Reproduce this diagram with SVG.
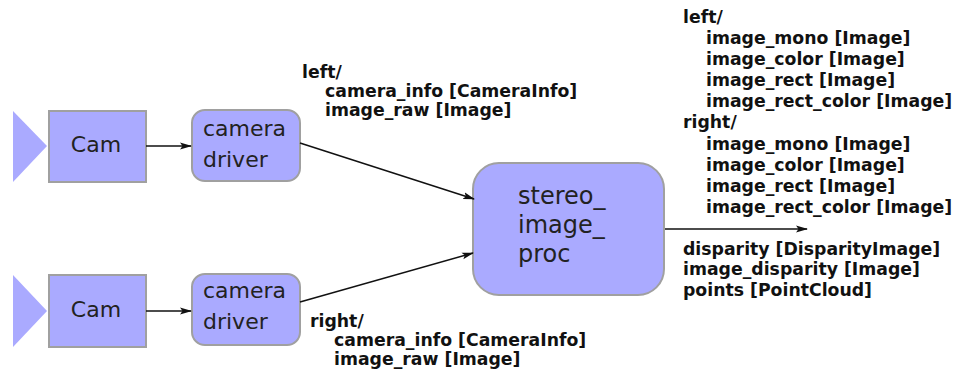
<svg xmlns="http://www.w3.org/2000/svg" width="956" height="380" viewBox="0 0 956 380">
<style>
.node{fill:#aaaaff;stroke:#a0a0a0;stroke-width:2}
.tri{fill:#aaaaff;stroke:none}
.nt{font-family:"DejaVu Sans",sans-serif;font-size:22px;fill:#222}
.st{font-family:"DejaVu Sans",sans-serif;font-size:24px;fill:#222}
.lb{font-family:"DejaVu Sans",sans-serif;font-size:17.3px;font-weight:bold;fill:#111}
.edge{stroke:#111;stroke-width:1.5;fill:none;marker-end:url(#arr)}
</style>
<defs>
<marker id="arr" markerWidth="12" markerHeight="8" refX="11" refY="4" orient="auto" markerUnits="userSpaceOnUse">
<path d="M0,0.5 L12,4 L0,7.5 L2.5,4 z" fill="#111"/>
</marker>
</defs>
<g id="cam1">
<polygon class="tri" points="13,111 47,146 13,182"/>
<rect class="node" x="49" y="111" width="97" height="71"/>
<text class="nt" x="96" y="152" text-anchor="middle">Cam</text>
</g>
<g id="driver1">
<rect class="node" x="192" y="110" width="108" height="71" rx="13"/>
<text class="nt" x="203" y="136">camera</text>
<text class="nt" x="203" y="167">driver</text>
</g>
<g id="cam2">
<polygon class="tri" points="13,275 47,311 13,347"/>
<rect class="node" x="49" y="275" width="97" height="72"/>
<text class="nt" x="96" y="317" text-anchor="middle">Cam</text>
</g>
<g id="driver2">
<rect class="node" x="192" y="274" width="108" height="71" rx="13"/>
<text class="nt" x="203" y="298">camera</text>
<text class="nt" x="203" y="329">driver</text>
</g>
<g id="stereo">
<rect class="node" x="473" y="163" width="191" height="132" rx="26"/>
<text class="st" x="518" y="204">stereo_</text>
<text class="st" x="518" y="233">image_</text>
<text class="st" x="518" y="262">proc</text>
</g>
<g id="connectors">
<line class="edge" x1="146" y1="146" x2="191" y2="146"/>
<line class="edge" x1="146" y1="311" x2="191" y2="311"/>
<line class="edge" x1="300" y1="143" x2="474" y2="199"/>
<line class="edge" x1="300" y1="302" x2="473" y2="253"/>
<line class="edge" x1="665" y1="229" x2="807" y2="229"/>
</g>
<g id="labels">
<text class="lb" x="302" y="78">left/</text>
<text class="lb" x="325" y="97">camera_info [CameraInfo]</text>
<text class="lb" x="325" y="116">image_raw [Image]</text>
<text class="lb" x="310" y="327">right/</text>
<text class="lb" x="334" y="346">camera_info [CameraInfo]</text>
<text class="lb" x="334" y="365">image_raw [Image]</text>
<text class="lb" x="683" y="23">left/</text>
<text class="lb" x="706" y="44">image_mono [Image]</text>
<text class="lb" x="706" y="65">image_color [Image]</text>
<text class="lb" x="706" y="86">image_rect [Image]</text>
<text class="lb" x="706" y="107">image_rect_color [Image]</text>
<text class="lb" x="683" y="128">right/</text>
<text class="lb" x="706" y="150">image_mono [Image]</text>
<text class="lb" x="706" y="171">image_color [Image]</text>
<text class="lb" x="706" y="192">image_rect [Image]</text>
<text class="lb" x="706" y="213">image_rect_color [Image]</text>
<text class="lb" x="683" y="255">disparity [DisparityImage]</text>
<text class="lb" x="683" y="275">image_disparity [Image]</text>
<text class="lb" x="683" y="296">points [PointCloud]</text>
</g>
</svg>
